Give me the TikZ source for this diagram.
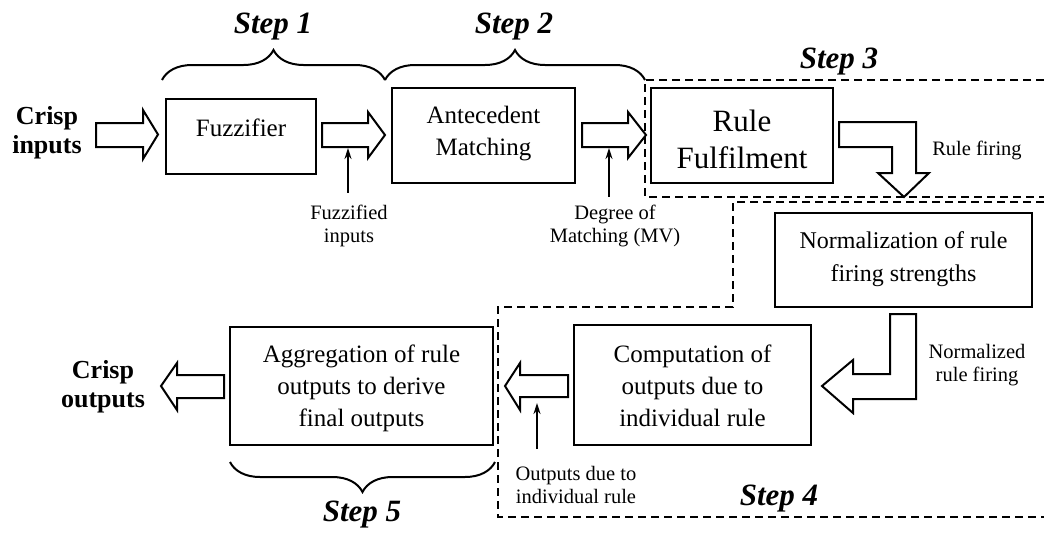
\documentclass[tikz,border=0pt]{standalone}
\usepackage{fontspec}
\setmainfont{Liberation Serif}
\usetikzlibrary{arrows.meta,decorations.pathreplacing}
\begin{document}
\begin{tikzpicture}[x=1pt,y=-1pt,
  box/.style={draw,line width=2pt,inner sep=0pt},
  boxtext/.style={align=center,inner sep=0pt,font=\fontsize{25}{32}\selectfont},
  small/.style={align=center,inner sep=0pt,font=\fontsize{20.5}{23}\selectfont},
  ends/.style={align=center,inner sep=0pt,font=\fontsize{26}{29}\selectfont\bfseries},
  steplbl/.style={inner sep=0pt,font=\fontsize{31}{32}\selectfont\bfseries\itshape},
  blockarrow/.style={draw,line width=2pt,fill=white,line join=miter},
  pointer/.style={line width=1.6pt,-{Stealth[length=11pt,width=7pt]}},
  region/.style={line width=2pt,dash pattern=on 8pt off 5pt},
  stepbrace/.style={line width=2pt,decorate,decoration={brace,amplitude=30pt}}]
\useasboundingbox (0,0) rectangle (1046,533);

% dashed regions of steps 3 and 4
\draw[region] (1044,80) -- (645,80) -- (645,197) -- (1044,197);
\draw[region] (1044,202) -- (733,202) -- (733,307) -- (498,307) -- (498,517) -- (1044,517);

% process blocks
\node[box,minimum width=150pt,minimum height=75pt] (fuzz) at (241,136.5) {};
\node[boxtext] (fuzzt) at (241,128) {Fuzzifier};
\node[box,minimum width=183pt,minimum height=95pt] (ante) at (483.5,135.5) {};
\node[boxtext] (antet) at (483.5,134) {Antecedent\\Matching};
\node[box,minimum width=182pt,minimum height=95pt] (rule) at (742,135.5) {};
\node[boxtext,font=\fontsize{31}{37}\selectfont] (rulet) at (742,139) {Rule\\Fulfilment};
\node[box,minimum width=257pt,minimum height=94pt] (norm) at (903.5,260) {};
\node[boxtext,font=\fontsize{24}{33}\selectfont] (normt) at (903.5,259) {Normalization of rule\\firing strengths};
\node[box,minimum width=237pt,minimum height=120pt] (comp) at (692.5,385) {};
\node[boxtext] (compt) at (692.5,386) {Computation of\\outputs due to\\individual rule};
\node[box,minimum width=263pt,minimum height=118pt] (aggr) at (361.5,386) {};
\node[boxtext] (aggrt) at (361.5,388) {Aggregation of rule\\outputs to derive\\final outputs};

% system inputs and outputs
\node[ends] (crispin) at (47,133) {Crisp\\inputs};
\node[ends] (crispout) at (103,387) {Crisp\\outputs};

% signal labels
\node[small] (fuzzified) at (349,226) {Fuzzified\\inputs};
\node[small] (degree) at (615,226) {Degree of\\Matching (MV)};
\node[small] (outdue) at (576,485) {Outputs due to\\individual rule};
\node[small] (firing) at (977,150) {Rule firing};
\node[small] (normfiring) at (977,365) {Normalized\\rule firing};

% block arrows between stages
\draw[blockarrow] (96,123) -- (143,123) -- (143,110) -- (158,134.5) -- (143,159) -- (143,147) -- (96,147) -- cycle;
\draw[blockarrow] (322,123) -- (368,123) -- (368,112) -- (385,135) -- (368,158) -- (368,147) -- (322,147) -- cycle;
\draw[blockarrow] (582,123) -- (628,123) -- (628,112) -- (646,135) -- (628,158) -- (628,147) -- (582,147) -- cycle;
\draw[blockarrow] (839,122) -- (916,122) -- (916,173) -- (929,173) -- (904,197) -- (878,173) -- (892,173) -- (892,147) -- (839,147) -- cycle;
\draw[blockarrow] (890,314) -- (916,314) -- (916,399) -- (853,399) -- (853,413) -- (822,386) -- (853,360) -- (853,374) -- (890,374) -- cycle;
\draw[blockarrow] (568,375) -- (520,375) -- (520,363) -- (505,386) -- (520,410) -- (520,397) -- (568,397) -- cycle;
\draw[blockarrow] (224,375) -- (177,375) -- (177,363) -- (161,386) -- (177,410) -- (177,398) -- (224,398) -- cycle;

% pointers from signal labels
\coordinate (p1) at (348,148);
\coordinate (p2) at (609,148);
\coordinate (p3) at (537,403);
\draw[pointer] (fuzzified.north -| p1) ++(0,-12) -- (p1);
\draw[pointer] (degree.north -| p2) ++(0,-8) -- (p2);
\draw[pointer] (outdue.north -| p3) ++(0,-17) -- (p3);

% step braces and labels
\coordinate (b1) at (162,80);
\coordinate (b2) at (385,80);
\coordinate (b3) at (645,80);
\coordinate (b4) at (495,462);
\coordinate (b5) at (230,462);
\draw[stepbrace] (b1) -- (b2);
\draw[stepbrace] (b2) -- (b3);
\draw[stepbrace] (b4) -- (b5);
\node[steplbl] (s1) at (273,27) {Step 1};
\node[steplbl] (s2) at (514,27) {Step 2};
\node[steplbl] (s3) at (839,62) {Step 3};
\node[steplbl] (s4) at (779,499) {Step 4};
\node[steplbl] (s5) at (362,515) {Step 5};
\end{tikzpicture}
\end{document}
